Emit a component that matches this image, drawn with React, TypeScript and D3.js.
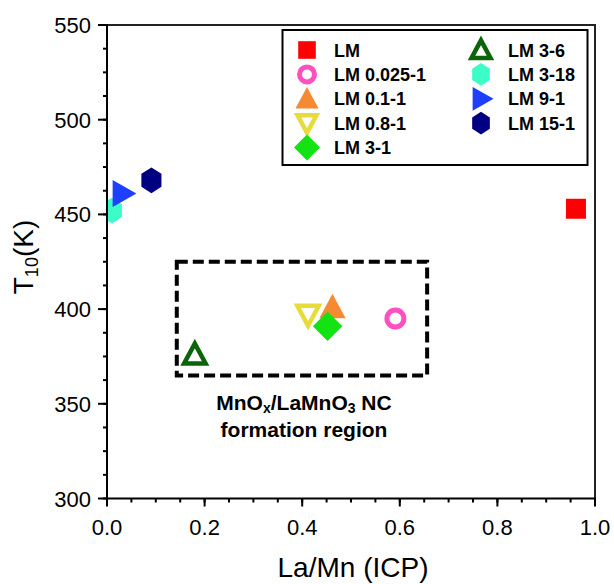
import React from "react";
import * as d3 from "d3";

// Sample names, La/Mn ratio from ICP, and T10 light-off temperature (K)
const samples = ["LM", "LM 0.025-1", "LM 0.1-1", "LM 0.8-1", "LM 3-1", "LM 3-6", "LM 3-18", "LM 9-1", "LM 15-1"];
const laMnRatio = [0.961, 0.591, 0.462, 0.412, 0.452, 0.18, 0.01, 0.031, 0.091];
const t10Values = [453, 395, 401, 397, 391, 376, 452, 461, 468];

const xTickValues = [0, 0.2, 0.4, 0.6, 0.8, 1.0];
const yTickValues = [300, 350, 400, 450, 500, 550];

// Marker style per sample (shape, colour, filled or hollow)
type Shape = "square" | "circle" | "triUp" | "triDown" | "diamond" | "hexagon" | "triRight";
const markerStyles: { shape: Shape; color: string; hollow: boolean }[] = [
  { shape: "square", color: "#ff0000", hollow: false },
  { shape: "circle", color: "#ff4fc3", hollow: true },
  { shape: "triUp", color: "#f68a33", hollow: false },
  { shape: "triDown", color: "#e8dc3a", hollow: true },
  { shape: "diamond", color: "#13e313", hollow: false },
  { shape: "triUp", color: "#0a640a", hollow: true },
  { shape: "hexagon", color: "#3cfcc8", hollow: false },
  { shape: "triRight", color: "#1f3fff", hollow: false },
  { shape: "hexagon", color: "#000080", hollow: false },
];

const W = 614;
const H = 584;
const plot = { left: 107, right: 595, top: 25, bottom: 498.5 };

const x = d3.scaleLinear().domain([0, 1]).range([plot.left, plot.right]);
const y = d3.scaleLinear().domain([300, 550]).range([plot.bottom, plot.top]);

const FONT = "'Liberation Sans', Arial, Helvetica, sans-serif";

function markerPath(shape: Shape, cx: number, cy: number, s: number): string {
  const p = d3.path();
  if (shape === "square") {
    p.rect(cx - s * 0.8, cy - s * 0.8, s * 1.6, s * 1.6);
  } else if (shape === "circle") {
    p.arc(cx, cy, s * 0.68, 0, Math.PI * 2);
  } else if (shape === "triUp") {
    const hw = s * 1.05, h = s * 1.95;
    p.moveTo(cx, cy - h * 0.55);
    p.lineTo(cx + hw, cy + h * 0.45);
    p.lineTo(cx - hw, cy + h * 0.45);
    p.closePath();
  } else if (shape === "triDown") {
    const hw = s * 1.05, h = s * 1.95;
    p.moveTo(cx, cy + h * 0.55);
    p.lineTo(cx + hw, cy - h * 0.45);
    p.lineTo(cx - hw, cy - h * 0.45);
    p.closePath();
  } else if (shape === "diamond") {
    const r = s * 1.18;
    p.moveTo(cx, cy - r);
    p.lineTo(cx + r, cy);
    p.lineTo(cx, cy + r);
    p.lineTo(cx - r, cy);
    p.closePath();
  } else if (shape === "hexagon") {
    const r = s * 1.03;
    for (let i = 0; i < 6; i++) {
      const a = -Math.PI / 2 + (i * Math.PI) / 3;
      const px = cx + r * Math.cos(a) * 0.9;
      const py = cy + r * Math.sin(a);
      if (i === 0) p.moveTo(px, py);
      else p.lineTo(px, py);
    }
    p.closePath();
  } else if (shape === "triRight") {
    const hh = s * 1.08, w = s * 1.9;
    p.moveTo(cx + w * 0.6, cy);
    p.lineTo(cx - w * 0.4, cy - hh);
    p.lineTo(cx - w * 0.4, cy + hh);
    p.closePath();
  }
  return p.toString();
}

function Marker({ idx, cx, cy, s }: { idx: number; cx: number; cy: number; s: number }) {
  const st = markerStyles[idx];
  const hollow = st.hollow;
  let size = s;
  if (hollow && st.shape !== "circle") size = s * 0.82;
  return (
    <path
      d={markerPath(st.shape, cx, cy, size)}
      fill={hollow ? "none" : st.color}
      stroke={st.color}
      strokeWidth={hollow ? (st.shape === "circle" ? 5 : 4.5) : 0}
      strokeLinejoin="miter"
    />
  );
}

// Region box for the nanocomposite formation zone
const regionX = [0.143, 0.656];
const regionY = [365, 425];

export default function App() {
  const xMinor = d3.range(0, 1.0001, 0.05);
  const yMinor = d3.range(300, 550.001, 12.5);

  const legendCol1 = [0, 1, 2, 3, 4];
  const legendCol2 = [5, 6, 7, 8];
  const legendRowY = (i: number) => 50 + i * 24.4;

  return (
    <svg width={W} height={H} style={{ position: "absolute", left: 0, top: 0, background: "#fff" }} fontFamily={FONT}>
      <defs>
        <clipPath id="plotClip">
          <rect x={plot.left} y={plot.top} width={plot.right - plot.left} height={plot.bottom - plot.top} />
        </clipPath>
      </defs>
      <rect x={0} y={0} width={W} height={H} fill="#fff" />

      {/* Region box and annotation */}
      <rect
        x={x(regionX[0])}
        y={y(regionY[1])}
        width={x(regionX[1]) - x(regionX[0])}
        height={y(regionY[0]) - y(regionY[1])}
        fill="none"
        stroke="#000"
        strokeWidth={4}
        strokeDasharray="11 5"
      />
      <text x={304} y={410} textAnchor="middle" fontSize={21} fontWeight="bold" fill="#000">
        MnO
        <tspan fontSize={14} dy={3}>x</tspan>
        <tspan dy={-3}>/LaMnO</tspan>
        <tspan fontSize={14} dy={3}>3</tspan>
        <tspan dy={-3}> NC</tspan>
      </text>
      <text x={304} y={437} textAnchor="middle" fontSize={21} fontWeight="bold" fill="#000">
        formation region
      </text>

      {/* Data markers */}
      <g clipPath="url(#plotClip)">
        {samples.map((name, i) => (
          <Marker key={name} idx={i} cx={x(laMnRatio[i])} cy={y(t10Values[i])} s={12.5} />
        ))}
      </g>

      {/* Legend */}
      <rect x={282.5} y={30} width={305} height={135} fill="#fff" stroke="#000" strokeWidth={2} />
      {legendCol1.map((i, r) => (
        <g key={samples[i]}>
          <Marker idx={i} cx={307} cy={legendRowY(r)} s={11} />
          <text x={334} y={legendRowY(r) + 6.5} fontSize={18} fontWeight="bold" fill="#000">
            {samples[i]}
          </text>
        </g>
      ))}
      {legendCol2.map((i, r) => (
        <g key={samples[i]}>
          <Marker idx={i} cx={481} cy={legendRowY(r)} s={11} />
          <text x={508} y={legendRowY(r) + 6.5} fontSize={18} fontWeight="bold" fill="#000">
            {samples[i]}
          </text>
        </g>
      ))}

      {/* Frame */}
      <g stroke="#000" strokeWidth={2} fill="none" strokeLinecap="square">
        <line x1={plot.left} x2={plot.right} y1={plot.top} y2={plot.top} stroke="#222" />
        <line x1={plot.right} x2={plot.right} y1={plot.top} y2={plot.bottom} stroke="#222" />
        <line x1={plot.left} x2={plot.right} y1={plot.bottom} y2={plot.bottom} />
        <line x1={plot.left} x2={plot.left} y1={plot.top} y2={plot.bottom} />
      </g>

      {/* Ticks */}
      <g stroke="#000" strokeWidth={2}>
        {xMinor.map((v) => (
          <line key={"xm" + v} x1={x(v)} x2={x(v)} y1={plot.bottom} y2={plot.bottom + 4} />
        ))}
        {xTickValues.map((v) => (
          <line key={"xM" + v} x1={x(v)} x2={x(v)} y1={plot.bottom} y2={plot.bottom + 8} />
        ))}
        {yMinor.map((v) => (
          <line key={"ym" + v} x1={plot.left - 4} x2={plot.left} y1={y(v)} y2={y(v)} />
        ))}
        {yTickValues.map((v) => (
          <line key={"yM" + v} x1={plot.left - 9} x2={plot.left} y1={y(v)} y2={y(v)} />
        ))}
      </g>
      {xTickValues.map((v) => (
        <text key={"xl" + v} x={x(v)} y={535} textAnchor="middle" fontSize={22} fill="#000">
          {d3.format(".1f")(v)}
        </text>
      ))}
      {yTickValues.map((v) => (
        <text key={"yl" + v} x={91} y={y(v) + 8} textAnchor="end" fontSize={22} fill="#000">
          {v}
        </text>
      ))}

      {/* Axis titles */}
      <text x={353} y={577} textAnchor="middle" fontSize={28} fill="#000">
        La/Mn (ICP)
      </text>
      <text transform="translate(33,257) rotate(-90)" textAnchor="middle" fontSize={28} fill="#000">
        T<tspan fontSize={18} dy={5}>10</tspan>
        <tspan dy={-5}>(K)</tspan>
      </text>
    </svg>
  );
}
